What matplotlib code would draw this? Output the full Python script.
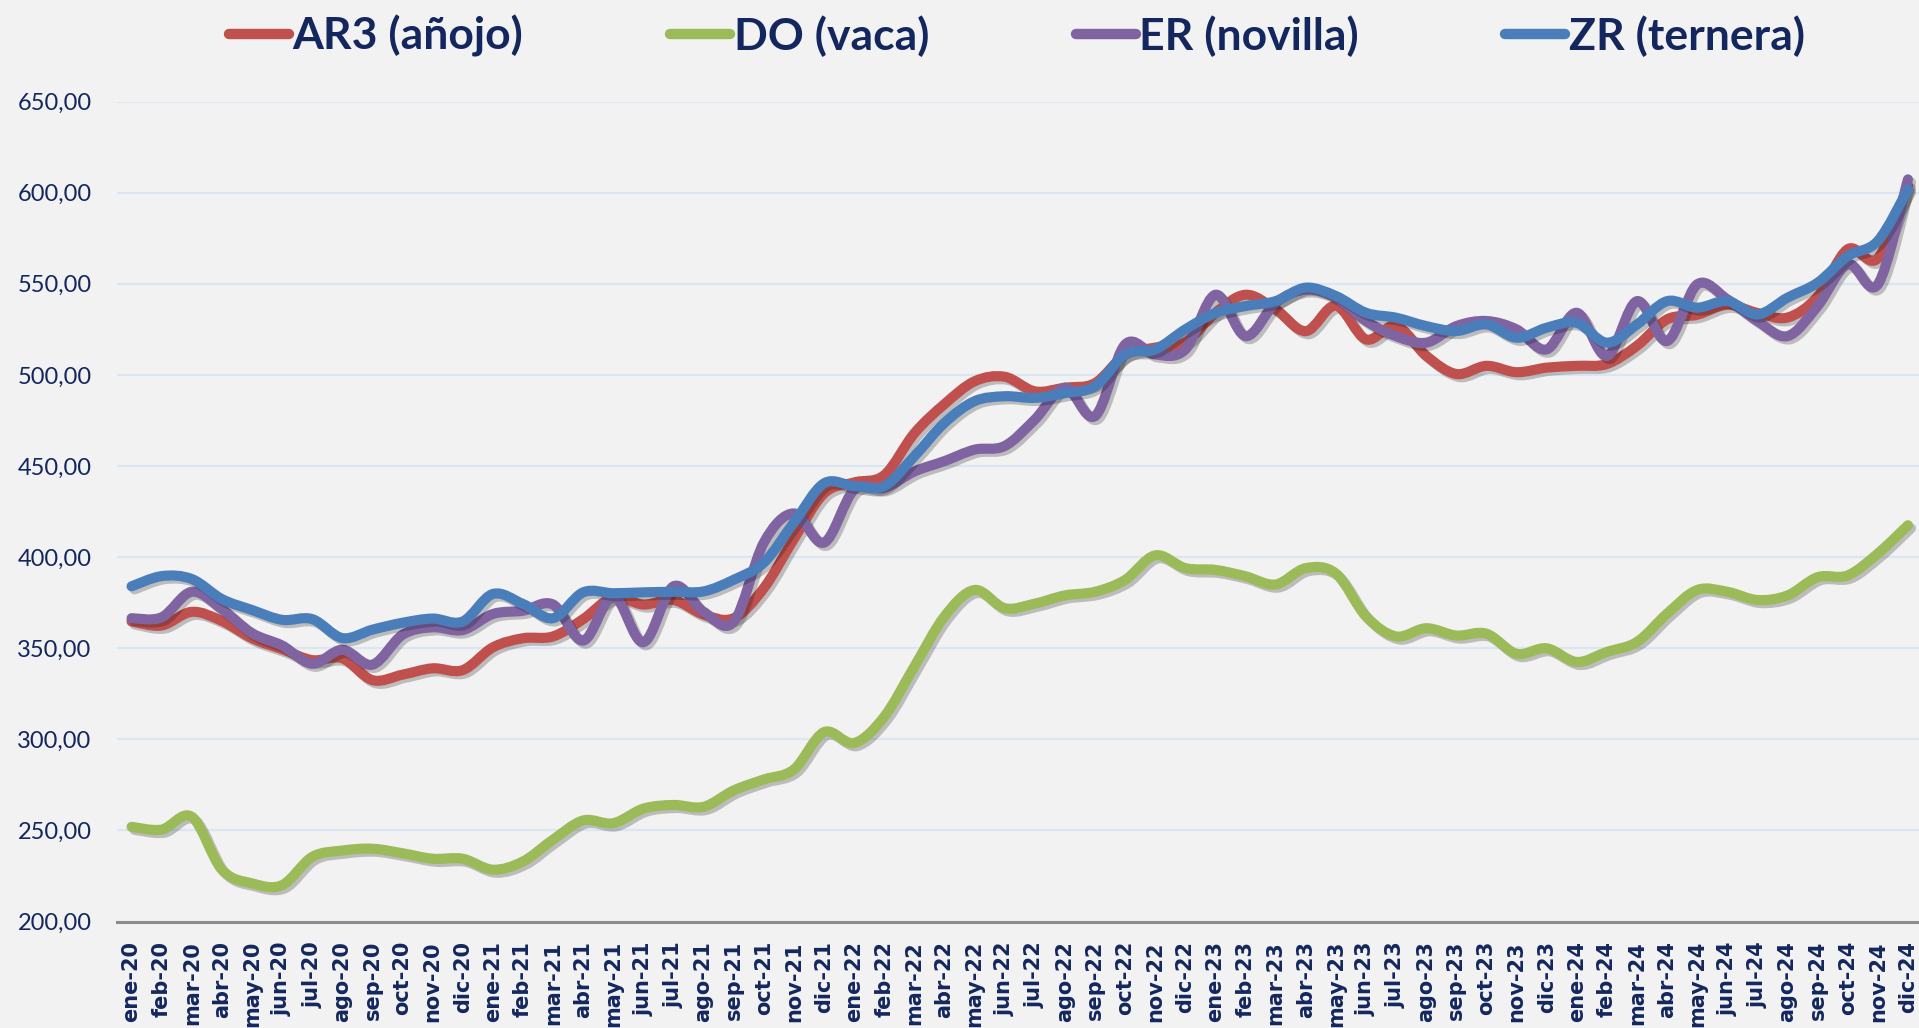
import matplotlib
matplotlib.use("Agg")
import matplotlib.pyplot as plt
import matplotlib.patheffects as pe
from matplotlib.path import Path
from matplotlib.patches import PathPatch
from matplotlib.lines import Line2D

months = ["ene", "feb", "mar", "abr", "may", "jun", "jul", "ago", "sep", "oct", "nov", "dic"]
years = ["20", "21", "22", "23", "24"]
labels = [m + "-" + y for y in years for m in months]

names = ["AR3 (añojo)", "DO (vaca)", "ER (novilla)", "ZR (ternera)"]
colors = ["#c0504d", "#9bbb59", "#8064a2", "#4a7ebb"]

ar3 = [364.7, 362.5, 370.0, 365.0, 355.5, 349.5, 343.5, 344.5, 332.5, 335.5, 339.0, 338.0,
       350.5, 355.5, 356.5, 366.0, 378.0, 374.0, 376.5, 368.5, 366.5, 383.0, 410.0, 435.0,
       441.0, 445.0, 468.0, 484.0, 496.5, 499.0, 491.0, 493.0, 495.5, 511.0, 515.0, 518.0,
       534.0, 544.0, 536.0, 524.0, 538.0, 519.5, 527.0, 510.5, 500.5, 505.0, 501.5, 504.0,
       505.0, 506.0, 516.0, 530.5, 533.0, 538.5, 534.0, 531.5, 543.0, 569.0, 564.0, 604.0]

do = [252.0, 250.5, 257.5, 228.5, 221.0, 220.0, 235.5, 239.0, 240.0, 237.5, 234.5, 234.5,
      228.5, 233.0, 245.0, 255.5, 254.0, 262.0, 264.0, 263.0, 272.0, 278.0, 283.5, 304.0,
      298.0, 312.5, 340.0, 367.5, 382.0, 372.0, 374.5, 379.0, 381.0, 387.5, 401.0, 394.0,
      393.0, 389.5, 385.0, 394.0, 391.0, 367.5, 356.5, 361.0, 357.0, 358.0, 347.0, 350.0,
      342.5, 348.0, 353.5, 369.0, 382.0, 381.0, 376.5, 379.0, 389.0, 390.0, 402.0, 417.5]

er = [366.5, 367.0, 381.0, 371.5, 358.3, 351.5, 341.5, 349.2, 341.0, 357.4, 361.5, 360.0,
      368.8, 370.6, 374.0, 354.2, 378.5, 353.3, 384.0, 370.0, 364.5, 408.0, 424.0, 408.0,
      437.0, 438.0, 447.0, 452.7, 459.0, 461.0, 475.5, 493.0, 477.4, 516.7, 511.2, 514.0,
      544.0, 521.3, 539.6, 546.9, 542.4, 529.6, 521.3, 517.7, 526.8, 529.6, 525.0, 514.0,
      534.1, 510.4, 540.5, 518.6, 549.7, 541.5, 529.6, 521.3, 537.8, 560.7, 549.7, 607.3]

zr = [384.0, 389.6, 388.0, 377.0, 371.0, 365.6, 366.0, 355.6, 360.2, 364.0, 366.3, 364.7,
      379.8, 374.3, 366.5, 380.7, 380.2, 380.7, 381.0, 381.2, 387.6, 397.0, 419.0, 440.5,
      439.0, 439.0, 455.4, 473.7, 485.6, 488.3, 487.4, 490.0, 493.8, 511.2, 514.0, 525.0,
      534.0, 537.8, 540.5, 547.9, 543.3, 534.1, 531.4, 526.8, 524.1, 527.7, 520.4, 525.9,
      528.6, 517.7, 527.7, 540.5, 536.9, 540.5, 533.2, 542.4, 550.6, 565.2, 573.5, 601.8]

yticks = [200, 250, 300, 350, 400, 450, 500, 550, 600, 650]

navy = "#13275e"
bg = "#f2f2f2"


def smooth_path(ys):
    # bezier through the points, same kind of smoothing as excel
    pts = list(zip(range(len(ys)), ys))
    n = len(pts)
    verts = [pts[0]]
    codes = [Path.MOVETO]
    for i in range(n - 1):
        p0 = pts[i - 1] if i > 0 else pts[i]
        p1 = pts[i]
        p2 = pts[i + 1]
        p3 = pts[i + 2] if i + 2 < n else pts[i + 1]
        c1 = (p1[0] + (p2[0] - p0[0]) / 6, p1[1] + (p2[1] - p0[1]) / 6)
        c2 = (p2[0] - (p3[0] - p1[0]) / 6, p2[1] - (p3[1] - p1[1]) / 6)
        verts += [c1, c2, p2]
        codes += [Path.CURVE4] * 3
    return Path(verts, codes)


fig = plt.figure(figsize=(19.19, 10.28), dpi=100, facecolor=bg)
left = 116.5 / 1919
ax = fig.add_axes([left, 1 - 921.6 / 1028, 1806.5 / 1919, 820 / 1028])
ax.set_facecolor(bg)

series = [ar3, do, er, zr]
for k, ys in enumerate(series):
    patch = PathPatch(smooth_path(ys), fill=False, edgecolor=colors[k], lw=7.3,
                      capstyle="round", joinstyle="round", zorder=3 + k)
    patch.set_path_effects([pe.SimpleLineShadow(offset=(2.2, -2.2), shadow_color="k", alpha=0.22),
                            pe.Normal()])
    ax.add_patch(patch)

ax.set_xlim(-0.5, len(labels) - 0.5)
ax.set_ylim(200, 650)
ax.set_yticks(yticks)
ax.set_yticklabels([("%.2f" % v).replace(".", ",") for v in yticks],
                   fontfamily="Lato", fontsize=17, color=navy)
ax.set_xticks(range(len(labels)))
ax.set_xticklabels(labels, rotation=90, fontfamily="DejaVu Sans", fontweight="bold",
                   fontsize=15, color=navy, va="top", ha="center")
ax.tick_params(axis="x", length=0, pad=14)
ax.tick_params(axis="y", length=0, pad=18)

ax.yaxis.grid(True, color="#dce6f2", lw=1.6)
ax.set_axisbelow(True)
for s in ["top", "left", "right"]:
    ax.spines[s].set_visible(False)
ax.spines["bottom"].set_color("#8c8c8c")
ax.spines["bottom"].set_linewidth(2.2)
ax.spines["bottom"].set_zorder(2)

handles = [Line2D([], [], color=c, lw=7.5, solid_capstyle="round") for c in colors]
leg = fig.legend(handles, names, loc="center", bbox_to_anchor=(1017 / 1919, 1 - 36 / 1028),
                 ncol=4, frameon=False, handlelength=1.35, handletextpad=0.08,
                 columnspacing=3.3, labelcolor=navy,
                 prop=dict(family="Lato", weight="bold", size=32))

fig.savefig("out.png", dpi=100, facecolor=bg)
